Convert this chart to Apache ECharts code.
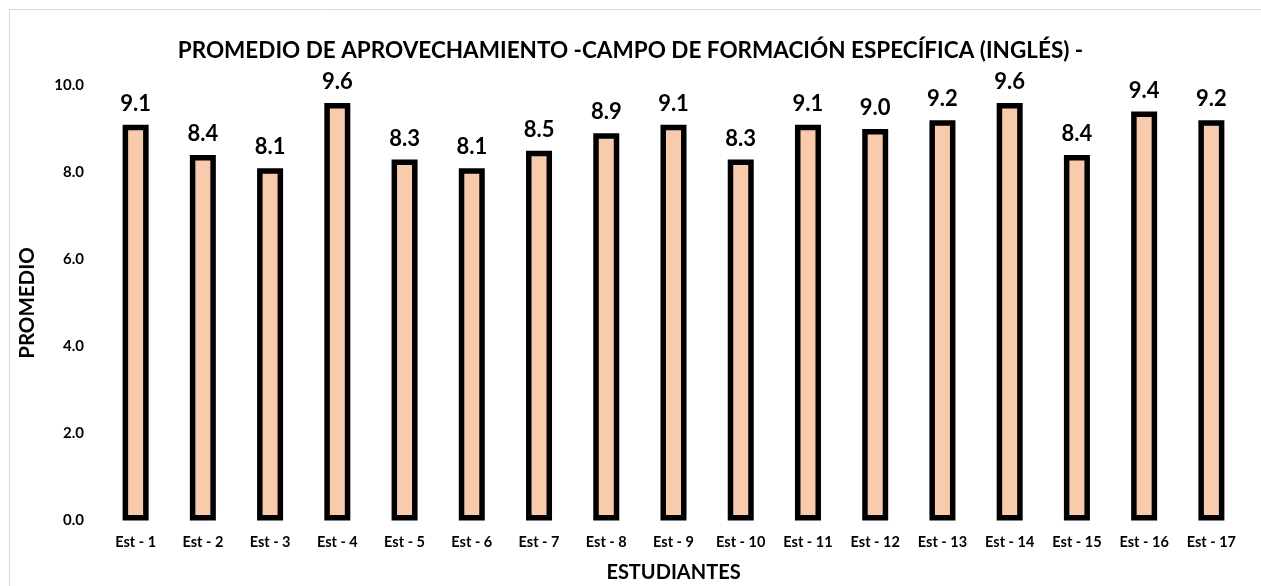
<!DOCTYPE html>
<html>
<head>
<meta charset="utf-8">
<script src="https://cdn.jsdelivr.net/npm/echarts@6/dist/echarts.min.js"></script>
<style>
  html, body { margin: 0; padding: 0; background: #fff; }
  #main { width: 1261px; height: 586px; }
</style>
</head>
<body>
<div id="main"></div>
<script>
// datos del gráfico
const titulo = 'PROMEDIO DE APROVECHAMIENTO -CAMPO DE FORMACIÓN ESPECÍFICA (INGLÉS) -'
const estudiantes = ['Est - 1', 'Est - 2', 'Est - 3', 'Est - 4', 'Est - 5', 'Est - 6', 'Est - 7', 'Est - 8', 'Est - 9',
  'Est - 10', 'Est - 11', 'Est - 12', 'Est - 13', 'Est - 14', 'Est - 15', 'Est - 16', 'Est - 17']
const promedios = [9.1, 8.4, 8.1, 9.6, 8.3, 8.1, 8.5, 8.9, 9.1, 8.3, 9.1, 9.0, 9.2, 9.6, 8.4, 9.4, 9.2]

const fuente = 'Lato'
const chart = echarts.init(document.getElementById('main'))

chart.setOption({
  animation: false,
  textStyle: { fontFamily: fuente, fontWeight: 'bold', color: '#000' },
  title: {
    text: titulo,
    left: 'center',
    top: 34,
    textStyle: { fontFamily: fuente, fontWeight: 'bold', fontSize: 22.5, color: '#000' }
  },
  // marco gris del área del gráfico
  graphic: [{
    type: 'rect',
    shape: { x: 9.5, y: 9.5, width: 1300, height: 700 },
    style: { fill: 'none', stroke: '#d9d9d9', lineWidth: 1 },
    silent: true
  }],
  grid: { left: 102, right: 16, top: 85.5, bottom: 65.5, outerBoundsMode: 'none' },
  xAxis: {
    type: 'category',
    data: estudiantes,
    name: 'ESTUDIANTES',
    nameLocation: 'middle',
    nameGap: 42,
    nameTextStyle: { fontFamily: fuente, fontWeight: 'bold', fontSize: 20, color: '#000' },
    axisLine: { show: false },
    axisTick: { show: false },
    axisLabel: { margin: 14, fontSize: 14.5, fontWeight: 'bold', color: '#000' }
  },
  yAxis: {
    type: 'value',
    min: 0,
    max: 10,
    interval: 2,
    name: 'PROMEDIO',
    nameLocation: 'middle',
    nameGap: 64,
    nameTextStyle: { fontFamily: fuente, fontWeight: 'bold', fontSize: 20.5, color: '#000' },
    axisLine: { show: false },
    axisTick: { show: false },
    splitLine: { show: false },
    axisLabel: {
      margin: 18,
      fontSize: 15,
      fontWeight: 'bold',
      color: '#000',
      formatter: v => v.toFixed(1)
    }
  },
  series: [{
    type: 'bar',
    data: promedios,
    barWidth: 26,
    itemStyle: { color: '#F8CBAD', borderColor: '#000', borderWidth: 5.5 },
    label: {
      show: true,
      position: 'top',
      distance: 10,
      fontSize: 22,
      fontWeight: 'bold',
      color: '#000',
      formatter: p => p.value.toFixed(1)
    }
  }]
})
</script>
</body>
</html>
